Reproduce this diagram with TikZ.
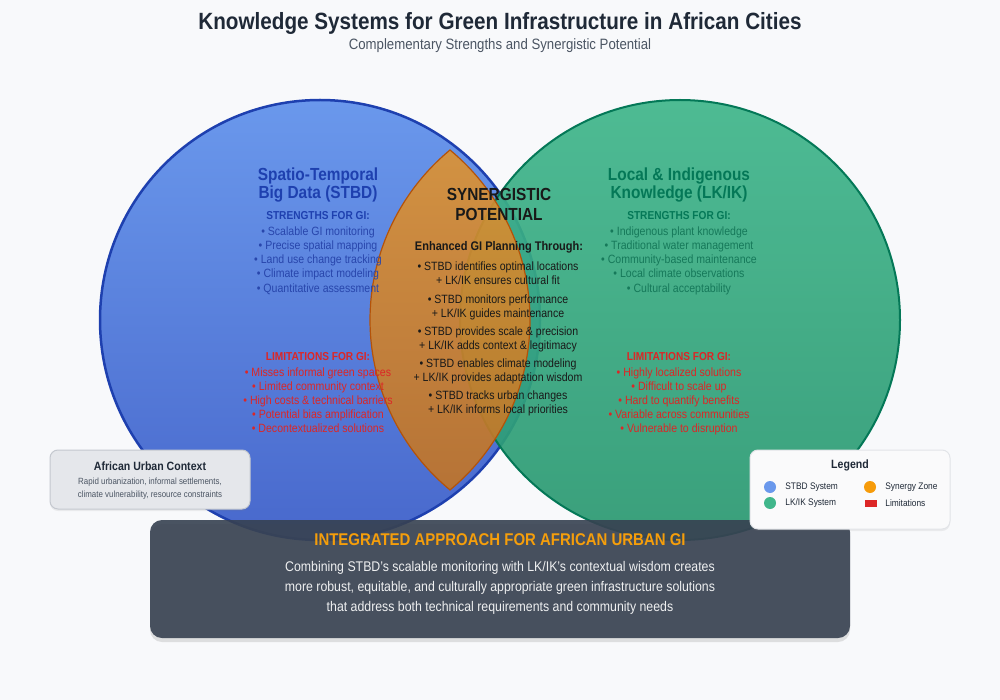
\documentclass[tikz,border=0pt]{standalone}
\usepackage{fontspec}
\setmainfont{Liberation Sans}[FakeStretch=0.88]
\usetikzlibrary{positioning,shadows}

\definecolor{ink}{HTML}{1F2937}
\definecolor{inkgray}{HTML}{4B5563}
\definecolor{pagebg}{HTML}{F8F9FB}
\definecolor{stbdA}{HTML}{6A98EC}
\definecolor{stbdB}{HTML}{4868CC}
\definecolor{stbdline}{HTML}{1E40AF}
\definecolor{stbdtext}{HTML}{1E40AF}
\definecolor{stbditem}{HTML}{2846AC}
\definecolor{lkA}{HTML}{40B68B}
\definecolor{lkB}{HTML}{2A9871}
\definecolor{lkline}{HTML}{047857}
\definecolor{lktext}{HTML}{047857}
\definecolor{lkitem}{HTML}{16795A}
\definecolor{synA}{HTML}{DE9231}
\definecolor{synB}{HTML}{C27426}
\definecolor{synline}{HTML}{B45309}
\definecolor{limred}{HTML}{DC2626}
\definecolor{slate}{HTML}{374151}
\definecolor{amber}{HTML}{F59E0B}
\definecolor{ctxfill}{HTML}{E5E7EB}
\definecolor{ctxline}{HTML}{C4C8CF}
\definecolor{legfill}{HTML}{FAFAFB}
\definecolor{legline}{HTML}{E2E4E8}

\tikzset{
	every node/.style={inner sep=0pt, anchor=base},
	ttl/.style={font=\bfseries\fontsize{23.5}{27}\selectfont, text=ink},
	subttl/.style={font=\fontsize{15}{18}\selectfont, text=inkgray},
	headtxt/.style={font=\bfseries\fontsize{17.5}{21}\selectfont},
	gihead/.style={font=\bfseries\fontsize{11.5}{14}\selectfont},
	itemtxt/.style={font=\fontsize{12}{14}\selectfont},
	synitem/.style={itemtxt, text=black!90},
	ctxbox/.style={draw=ctxline, fill=ctxfill, line width=1pt, rounded corners=8pt, anchor=center,
		minimum width=200pt, minimum height=59pt, drop shadow={opacity=.12, shadow xshift=0pt, shadow yshift=-2pt}},
	legbox/.style={ctxbox, draw=legline, fill=legfill, minimum height=79pt},
	legtxt/.style={font=\fontsize{9.5}{11}\selectfont, text=ink, anchor=west},
	legdot/.style={circle, minimum size=12pt, anchor=center}
}

\begin{document}
\begin{tikzpicture}[x=1pt,y=-1pt]
	\fill[pagebg] (0,0) rectangle (1000,700);
	\useasboundingbox (0,0) rectangle (1000,700);

	\node[ttl] (title) at (500,30) {Knowledge Systems for Green Infrastructure in African Cities};
	\node[subttl] (sub) at (500,50) {Complementary Strengths and Synergistic Potential};

	\draw[stbdline, line width=2.5pt, top color=stbdA, bottom color=stbdB] (320,320) circle[radius=220];
	\draw[lkline, line width=2pt, top color=lkA, bottom color=lkB, fill opacity=.92] (680,320) circle[radius=220];
	\draw[synline, line width=1.2pt, top color=synA, bottom color=synB, fill opacity=.9]
		(450,150) arc[start angle=230.4, end angle=129.6, radius=220.6]
		arc[start angle=50.4, end angle=-50.4, radius=220.6] -- cycle;

	\node[headtxt, text=stbdtext] (stbd1) at (318,180.5) {Spatio-Temporal};
	\node[headtxt, text=stbdtext] (stbd2) at (318,198.5) {Big Data (STBD)};
	\node[gihead, text=stbdtext] (stbds) at (318,220) {STRENGTHS FOR GI:};
	\foreach \txt [count=\i from 0] in {Scalable GI monitoring, Precise spatial mapping,
		Land use change tracking, Climate impact modeling, Quantitative assessment}
		\node[itemtxt, text=stbditem] (ss\i) at (318,236+14*\i) {• \txt};
	\node[gihead, text=limred] (stbdl) at (318,360) {LIMITATIONS FOR GI:};
	\foreach \txt [count=\i from 0] in {Misses informal green spaces, Limited community context,
		High costs \& technical barriers, Potential bias amplification, Decontextualized solutions}
		\node[itemtxt, text=limred] (sl\i) at (318,376+14*\i) {• \txt};

	\node[headtxt, text=lktext] (lk1) at (679,180.5) {Local \& Indigenous};
	\node[headtxt, text=lktext] (lk2) at (679,198.5) {Knowledge (LK/IK)};
	\node[gihead, text=lktext] (lks) at (679,220) {STRENGTHS FOR GI:};
	\foreach \txt [count=\i from 0] in {Indigenous plant knowledge, Traditional water management,
		Community-based maintenance, Local climate observations, Cultural acceptability}
		\node[itemtxt, text=lkitem] (ks\i) at (679,236+14*\i) {• \txt};
	\node[gihead, text=limred] (lkl) at (679,360) {LIMITATIONS FOR GI:};
	\foreach \txt [count=\i from 0] in {Highly localized solutions, Difficult to scale up,
		Hard to quantify benefits, Variable across communities, Vulnerable to disruption}
		\node[itemtxt, text=limred] (kl\i) at (679,376+14*\i) {• \txt};

	\node[headtxt, text=black!90] (syn1) at (499,201) {SYNERGISTIC};
	\node[headtxt, text=black!90] (syn2) at (499,220.5) {POTENTIAL};
	\node[font=\bfseries\fontsize{12.5}{15}\selectfont, text=black!90] (synh) at (499,250.5) {Enhanced GI Planning Through:};
	\foreach \txt [count=\i from 0] in {STBD identifies optimal locations, STBD monitors performance,
		STBD provides scale \& precision, STBD enables climate modeling, STBD tracks urban changes}
		\node[synitem] (sa\i) at (498,271+32*\i) {• \txt};
	\foreach \txt [count=\i from 0] in {LK/IK ensures cultural fit, LK/IK guides maintenance,
		LK/IK adds context \& legitimacy, LK/IK provides adaptation wisdom, LK/IK informs local priorities}
		\node[synitem] (sb\i) at (498,285+32*\i) {+ \txt};

	\node[ctxbox] (ctx) at (150,479.5) {};
	\node[font=\bfseries\fontsize{12}{14}\selectfont, text=ink] (ctxh) at (150,470) {African Urban Context};
	\node[font=\fontsize{9}{11}\selectfont, text=inkgray] (ctx1) at (150,484.5) {Rapid urbanization, informal settlements,};
	\node[font=\fontsize{9}{11}\selectfont, text=inkgray] (ctx2) at (150,497) {climate vulnerability, resource constraints};

	\fill[slate, fill opacity=.9, rounded corners=12pt,
		drop shadow={opacity=.22, shadow xshift=0pt, shadow yshift=-4pt}] (150,520) rectangle (850,638);
	\node[font=\bfseries\fontsize{17}{20}\selectfont, text=amber] (ia) at (500,545) {INTEGRATED APPROACH FOR AFRICAN URBAN GI};
	\node[font=\fontsize{14}{17}\selectfont, text=white!92!slate] (ia1) at (500,571) {Combining STBD's scalable monitoring with LK/IK's contextual wisdom creates};
	\node[font=\fontsize{14}{17}\selectfont, text=white!92!slate] (ia2) at (500,591) {more robust, equitable, and culturally appropriate green infrastructure solutions};
	\node[font=\fontsize{14}{17}\selectfont, text=white!92!slate] (ia3) at (500,611) {that address both technical requirements and community needs};

	\node[legbox] (leg) at (850,489.5) {};
	\node[font=\bfseries\fontsize{12}{14}\selectfont, text=ink] (legh) at (850,468) {Legend};
	\node[legdot, fill=stbdA] (m1) at (770,487) {};
	\node[legdot, fill=lkA] (m2) at (770,503) {};
	\node[legdot, fill=amber!90!orange] (m3) at (870,487) {};
	\node[fill=limred, minimum width=12pt, minimum height=7pt, anchor=center] (m4) at (871,503.5) {};
	\node[legtxt, right=9pt of m1] (l1) {STBD System};
	\node[legtxt, right=9pt of m2] (l2) {LK/IK System};
	\node[legtxt, right=9pt of m3] (l3) {Synergy Zone};
	\node[legtxt, right=8pt of m4] (l4) {Limitations};
\end{tikzpicture}
\end{document}
